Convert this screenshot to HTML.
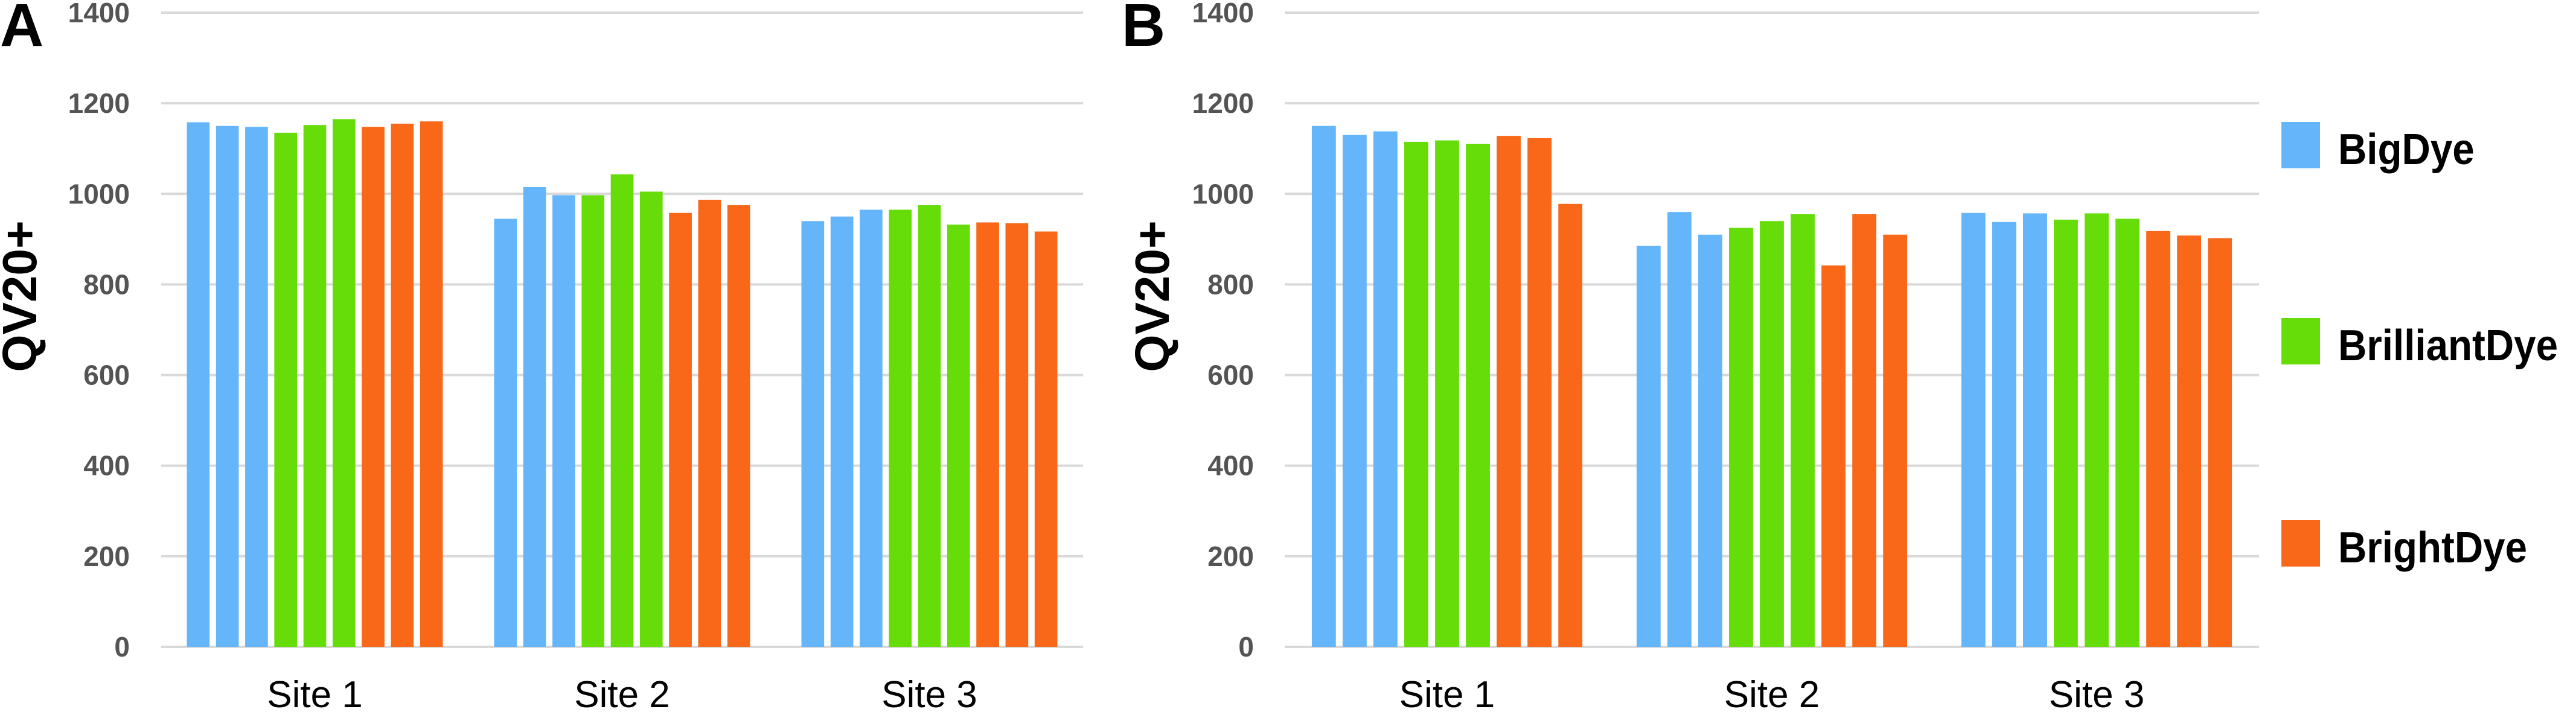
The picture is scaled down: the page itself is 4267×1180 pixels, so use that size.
<!DOCTYPE html>
<html><head><meta charset="utf-8"><style>
html,body{margin:0;padding:0;background:#fff;}
svg{display:block;}
text{font-family:"Liberation Sans",sans-serif;}
</style></head><body>
<svg id="chart" width="4267" height="1180" viewBox="0 0 4267 1180" xmlns="http://www.w3.org/2000/svg"></svg>
<script>
const categories = ["Site 1","Site 2","Site 3"];
const seriesColors = ["#65B5FB","#65B5FB","#65B5FB","#66DD08","#66DD08","#66DD08","#F86818","#F86818","#F86818"];
const panelAValues = [
  [1158,1150,1148,1135,1152,1165,1148,1155,1160],
  [945,1015,997,997,1043,1005,958,987,975],
  [940,950,965,965,975,932,937,935,917]
];
const panelBValues = [
  [1150,1130,1138,1115,1118,1110,1128,1123,978],
  [885,960,910,925,940,955,842,955,910],
  [958,938,957,943,957,945,918,908,902]
];
const yTicks = [0,200,400,600,800,1000,1200,1400];
const legendLabels = ["BigDye","BrilliantDye","BrightDye"];
const legendColors = ["#65B5FB","#66DD08","#F86818"];

const NS="http://www.w3.org/2000/svg";
const svg=document.getElementById('chart');
function mk(tag,attrs,parent){const e=document.createElementNS(NS,tag);for(const k in attrs)e.setAttribute(k,attrs[k]);(parent||svg).appendChild(e);return e;}

function drawPanel(id,letter,letterX,titleX,tickRight,x0,x1,values){
  const g=mk('g',{});
  
  
  const yTop=21,yBot=1072;
  const y=v=>yBot-(v/1400)*(yBot-yTop);
  yTicks.forEach(t=>{
    const l=mk('line',{x1:x0,x2:x1,y1:y(t),y2:y(t),stroke:'#d9d9d9','stroke-width':4},g);
    
    
    const tx=mk('text',{x:tickRight,y:y(t)+16,'text-anchor':'end','font-size':46,'font-weight':'bold',fill:'#545454'},g);
    tx.textContent=t;
    
    
  });
  const band=(x1-x0)/categories.length;
  const span=band*0.833, pitch=span/(8+0.78), bw=pitch*0.78;
  categories.forEach((c,ci)=>{
    const cx=x0+band*(ci+0.5);
    const start=cx-span/2;
    values[ci].forEach((v,si)=>{
      const r=mk('rect',{x:start+si*pitch,y:y(v),width:bw,height:yBot-y(v),fill:seriesColors[si]},g);
      
      
    });
    const lt=mk('text',{x:cx,y:1172,'text-anchor':'middle','font-size':62,fill:'#000'},g);
    lt.textContent=c;
    
    
  });
  const L=mk('text',{x:letterX,y:76,'font-size':100,'font-weight':'bold',fill:'#000'},g);
  L.textContent=letter;
  
  
  const T=mk('text',{x:titleX,y:491,'text-anchor':'middle','font-size':80,'font-weight':'bold',fill:'#000',transform:`rotate(-90 ${titleX} 491)`},g);
  T.textContent='QV20+';
  
  
}
drawPanel('a','A',0,60,215,267,1794,panelAValues);
drawPanel('b','B',1858,1936,2077,2128,3742,panelBValues);

const lg=mk('g',{});


const legY=[202,527,862];
legendLabels.forEach((lab,i)=>{
  const r=mk('rect',{x:3779,y:legY[i],width:64,height:77,fill:legendColors[i]},lg);
  
  
  const t=mk('text',{x:3873,y:legY[i]+70,'font-size':72,'font-weight':'bold',fill:'#000',transform:`translate(3873,0) scale(0.91,1) translate(-3873,0)`},lg);
  t.textContent=lab;
  
  
});
</script>
</body></html>
